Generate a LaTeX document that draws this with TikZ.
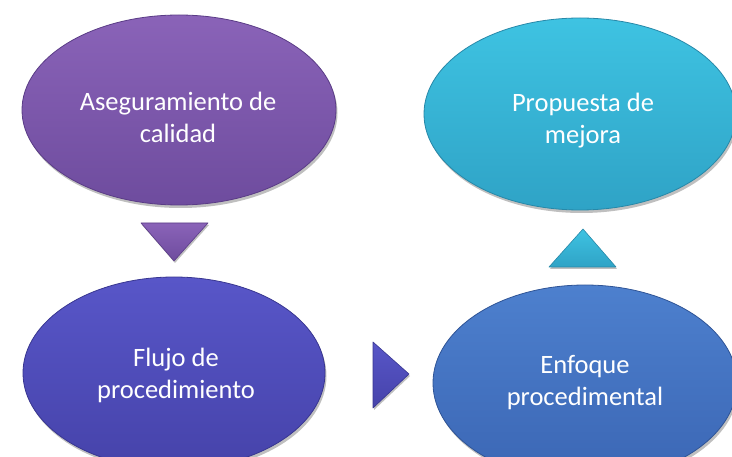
\documentclass[tikz,border=0pt]{standalone}
\usepackage{fontspec}
\setmainfont{Carlito}
\usetikzlibrary{shapes.geometric,shadows}
\definecolor{purT}{HTML}{8A63B8}
\definecolor{purB}{HTML}{6E4C9E}
\definecolor{purD}{HTML}{5A3C86}
\definecolor{cyaT}{HTML}{3EC3E2}
\definecolor{cyaB}{HTML}{2FA3C6}
\definecolor{cyaD}{HTML}{2788A8}
\definecolor{indT}{HTML}{5856C8}
\definecolor{indB}{HTML}{4643AA}
\definecolor{indD}{HTML}{383690}
\definecolor{bluT}{HTML}{4D80CE}
\definecolor{bluB}{HTML}{3B66B4}
\definecolor{bluD}{HTML}{2F5496}
\tikzset{
  bub/.style n args={3}{ellipse, top color=#1, bottom color=#2, draw=#3, line width=0.8pt,
    inner sep=0pt,
    drop shadow={shadow xshift=1.5pt, shadow yshift=-3pt, opacity=0.25, fill=black}},
  txt/.style={text=white, align=center, font=\fontsize{26.5}{32}\selectfont, inner sep=0pt},
  tri/.style n args={3}{top color=#1, bottom color=#2, draw=#3, line width=0.6pt, line join=round,
    drop shadow={shadow xshift=1pt, shadow yshift=-2pt, opacity=0.25, fill=black}}
}
\begin{document}
\begin{tikzpicture}[x=1pt,y=-1pt]
\useasboundingbox (0,0) rectangle (732,457);
\begin{scope}
\clip (0,0) rectangle (732,457);
\node[bub={purT}{purB}{purD}, minimum width=314pt, minimum height=190pt] (a) at (179,110) {};
\node[bub={cyaT}{cyaB}{cyaD}, minimum width=312pt, minimum height=192pt] (b) at (580,114) {};
\node[bub={indT}{indB}{indD}, minimum width=302pt, minimum height=192pt] (c) at (174,373) {};
\node[bub={bluT}{bluB}{bluD}, minimum width=304pt, minimum height=196pt] (d) at (585,383) {};
\node[txt] (ta) at (178,117) {Aseguramiento de\\calidad};
\node[txt] (tb) at (583,121) {Propuesta de\\mejora};
\node[txt] (tc) at (176,375) {Flujo de\\procedimiento};
\node[txt] (td) at (585,383) {Enfoque\\procedimental};
\path[tri={purT}{purB}{purD}] (141,223) -- (208,223) -- (174,261) -- cycle;
\path[tri={indT}{indB}{indD}] (373,342) -- (409,374) -- (373,408) -- cycle;
\path[tri={cyaT}{cyaB}{cyaD}] (583,229) -- (616,267) -- (549,267) -- cycle;
\end{scope}
\end{tikzpicture}
\end{document}
